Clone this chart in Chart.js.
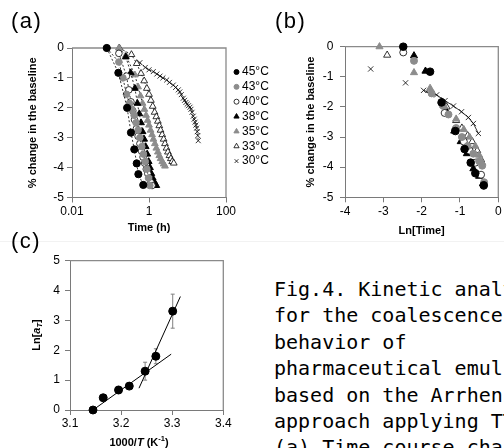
<!DOCTYPE html>
<html><head><meta charset="utf-8">
<script src="https://cdn.jsdelivr.net/npm/chart.js@4/dist/chart.umd.min.js"></script>
<style>
html,body{margin:0;padding:0;background:#fff;}
body{width:504px;height:448px;overflow:hidden;position:relative;font-family:"Liberation Sans",Arial,sans-serif;}
canvas{position:absolute;}
#ca{left:0;top:0;}
#cb{left:290px;top:0;}
#cc{left:0;top:240px;}
.lbl{position:absolute;font-size:22px;line-height:22px;letter-spacing:1.5px;color:#000;}
#cap{position:absolute;left:274px;top:276px;font-family:"DejaVu Sans Mono",monospace;font-size:20px;line-height:26.4px;white-space:pre;color:#000;}
.seam{position:absolute;left:0;top:241px;width:504px;height:1px;background:#f2f2f2;}
</style></head>
<body>
<div class="seam"></div>
<canvas id="ca" width="290" height="240"></canvas>
<canvas id="cb" width="214" height="240"></canvas>
<canvas id="cc" width="250" height="230"></canvas>
<div class="lbl" style="left:11px;top:10px;">(a)</div>
<div class="lbl" style="left:275px;top:10px;">(b)</div>
<div class="lbl" style="left:11px;top:230px;">(c)</div>
<div id="cap">Fig.4. Kinetic analysis
for the coalescence
behavior of
pharmaceutical emulsions
based on the Arrhenius
approach applying TTS.
(a) Time course changes</div>
<script>
// ---------- data ----------
const SERIES = ['45°C','43°C','40°C','38°C','35°C','33°C','30°C'];

// Panel (a): time (h) vs % change in the baseline
const A_TIME_45 = [0.08,0.16,0.27,0.34,0.415,0.48,0.53,0.71];
const A_CHG_45  = [0,-0.83,-2.0,-2.83,-3.39,-3.86,-4.22,-4.58];
const A_TIME_43 = [0.08,0.165,0.21,0.26,0.31,0.36,0.41,0.46,0.52,0.58,0.65,0.72,0.8,0.88,0.97,1.05];
const A_CHG_43  = [0,-0.47,-1.0,-1.55,-1.85,-2.05,-2.25,-2.5,-2.75,-3.0,-3.3,-3.55,-3.8,-4.05,-4.35,-4.6];
const A_TIME_40 = [0.165,0.26,0.3,0.34,0.38,0.42,0.47,0.52,0.58,0.64,0.7,0.77,0.85,0.93,1.02,1.12,1.2];
const A_CHG_40  = [-0.18,-0.94,-1.4,-1.8,-2.1,-2.4,-2.7,-2.95,-3.2,-3.45,-3.65,-3.85,-4.05,-4.2,-4.35,-4.5,-4.6];
const A_TIME_38 = [0.25,0.335,0.43,0.5,0.56,0.62,0.68,0.75,0.82,0.9,0.98,1.06,1.15,1.25,1.4,1.55];
const A_CHG_38  = [-0.3,-0.83,-1.35,-1.85,-2.2,-2.5,-2.8,-3.05,-3.3,-3.55,-3.8,-4.0,-4.2,-4.35,-4.5,-4.6];
const A_TIME_35 = [0.165,0.25,0.43,0.52,0.6,0.68,0.76,0.84,0.92,1.0,1.1,1.2,1.3,1.42,1.55,1.7,1.85,2.0,2.2,2.4,2.6];
const A_CHG_35  = [0,-0.25,-0.9,-1.3,-1.6,-1.85,-2.05,-2.25,-2.42,-2.58,-2.75,-2.9,-3.05,-3.2,-3.35,-3.48,-3.6,-3.7,-3.8,-3.88,-3.95];
const A_TIME_33 = [0.17,0.35,0.48,0.62,0.75,0.88,1.0,1.12,1.25,1.4,1.55,1.7,1.85,2.0,2.2,2.4,2.6,2.85,3.1,3.4,3.7,4.0,4.4];
const A_CHG_33  = [0,-0.22,-0.52,-0.85,-1.1,-1.35,-1.55,-1.75,-1.95,-2.15,-2.3,-2.45,-2.6,-2.75,-2.9,-3.05,-3.2,-3.35,-3.48,-3.6,-3.7,-3.8,-3.85];
const A_TIME_30 = [0.58,0.8,1.0,1.29,1.6,1.93,2.3,2.88,3.4,4.27,4.9,5.76,6.3,6.9,7.76,8.4,9.1,9.8,10.6,11.6,12.3,13.1,14.1,14.9,15.7,16.5,17.3,17.9,18.5,19.0];
const A_CHG_30  = [-0.49,-0.65,-0.73,-0.79,-0.87,-0.94,-1.0,-1.07,-1.15,-1.24,-1.32,-1.4,-1.47,-1.56,-1.68,-1.75,-1.82,-1.88,-1.93,-1.98,-2.05,-2.15,-2.28,-2.38,-2.48,-2.58,-2.68,-2.8,-2.93,-3.1];
const A_XTICKS = [0.01, 1, 100];

// Panel (b): Ln[Time] (shifted) vs % change in the baseline
const B_LNT_45 = [-2.48,-1.78,-1.48,-1.12,-0.88,-0.72,-0.6,-0.38];
const B_CHG_45 = [0,-0.83,-1.85,-2.8,-3.4,-3.85,-4.2,-4.6];
const B_LNT_43 = [-2.2,-1.74,-1.45,-1.3,-1.1,-0.95,-0.8,-0.65,-0.5,-0.42,-0.37];
const B_CHG_43 = [-0.47,-1.55,-1.95,-2.25,-2.7,-3.0,-3.3,-3.55,-3.8,-3.95,-4.5];
const B_LNT_40 = [-2.48,-1.4,-1.12,-0.9,-0.75,-0.6,-0.45,-0.38];
const B_CHG_40 = [-0.19,-2.2,-2.75,-3.15,-3.45,-3.85,-4.25,-4.62];
const B_LNT_38 = [-2.2,-1.9,-1.48,-1.33,-1.15,-0.98,-0.82,-0.65,-0.5,-0.4];
const B_CHG_38 = [-0.3,-0.81,-1.83,-2.2,-2.8,-3.15,-3.55,-4.05,-4.3,-4.55];
const B_LNT_35 = [-3.1,-2.2,-1.78,-1.4,-1.1,-0.9,-0.75,-0.6,-0.5,-0.42];
const B_CHG_35 = [0,-0.86,-1.38,-2.0,-2.4,-2.75,-3.0,-3.3,-3.6,-3.85];
const B_LNT_33 = [-2.9,-1.78,-1.35,-1.1,-0.95,-0.8,-0.68,-0.55,-0.45];
const B_CHG_33 = [-0.28,-1.45,-2.0,-2.45,-2.7,-2.95,-3.15,-3.45,-3.75];
const B_LNT_30 = [-3.33,-2.42,-1.95,-1.61,-1.39,-1.17,-0.96,-0.78,-0.65,-0.52];
const B_CHG_30 = [-0.74,-1.2,-1.45,-1.6,-1.79,-1.97,-2.16,-2.35,-2.55,-2.88];

// Panel (c): Arrhenius plot
const C_INVT  = [3.145,3.165,3.195,3.216,3.247,3.268,3.301];
const C_LNAT  = [0,0.41,0.67,0.80,1.30,1.80,3.31];
const C_ERR   = [0,0.05,0.12,0.05,0.30,0.25,0.57];
const C_FIT1_X = [3.145,3.298]; const C_FIT1_Y = [0,1.87];
const C_FIT2_X = [3.235,3.316]; const C_FIT2_Y = [0.73,3.80];
const C_XTICKS = [3.1,3.2,3.3,3.4];

// ---------- styles ----------
const GREY = '#8c8c8c';
const STYLE = [
  {ps:'circle',   bg:'#000', bc:'#000', r:3.6, bw:1},
  {ps:'circle',   bg:GREY,   bc:GREY,   r:3.3, bw:1},
  {ps:'circle',   bg:'#fff', bc:'#000', r:3.3, bw:0.8},
  {ps:'triangle', bg:'#000', bc:'#000', r:3.9, bw:1},
  {ps:'triangle', bg:GREY,   bc:GREY,   r:3.9, bw:1},
  {ps:'triangle', bg:'#fff', bc:'#000', r:3.9, bw:0.8},
  {ps:'crossRot', bg:'#000', bc:'#000', r:3.5, bw:0.8}
];
const FONT = "'Liberation Sans', Arial, sans-serif";
Chart.defaults.font.family = FONT;
Chart.defaults.font.size = 12;
Chart.defaults.color = '#000';
const TITLE_FONT = {size: 11, weight: 'bold'};

const zip = (xs, ys) => xs.map((v, i) => ({x: v, y: ys[i]}));

const framePlugin = {
  id: 'frame',
  beforeDatasetsDraw(chart) {
    const {ctx, chartArea: a} = chart;
    ctx.save();
    ctx.strokeStyle = '#8a8a8a'; ctx.lineWidth = 1.3;
    ctx.beginPath();
    ctx.moveTo(a.left, a.top); ctx.lineTo(a.right, a.top); ctx.lineTo(a.right, a.bottom);
    ctx.stroke();
    ctx.restore();
  }
};

function drawMarker(ctx, s, x, y, r) {
  ctx.save();
  ctx.fillStyle = s.bg; ctx.strokeStyle = s.bc; ctx.lineWidth = s.bw;
  ctx.beginPath();
  if (s.ps === 'circle') {
    ctx.arc(x, y, r, 0, Math.PI * 2); ctx.fill(); ctx.stroke();
  } else if (s.ps === 'triangle') {
    ctx.moveTo(x, y - r); ctx.lineTo(x + r * 0.866, y + r * 0.5); ctx.lineTo(x - r * 0.866, y + r * 0.5);
    ctx.closePath(); ctx.fill(); ctx.stroke();
  } else {
    const d = r * 0.75;
    ctx.moveTo(x - d, y - d); ctx.lineTo(x + d, y + d);
    ctx.moveTo(x + d, y - d); ctx.lineTo(x - d, y + d); ctx.stroke();
  }
  ctx.restore();
}

const legendPlugin = {
  id: 'sideLegend',
  afterDraw(chart) {
    const ctx = chart.ctx;
    ctx.save();
    ctx.font = '12px ' + FONT; ctx.fillStyle = '#000'; ctx.textBaseline = 'middle'; ctx.textAlign = 'left';
    chart.data.datasets.forEach((ds, i) => {
      const y = 72 + 14.85 * i;
      drawMarker(ctx, STYLE[i], 236.5, y, STYLE[i].ps === 'triangle' ? 3 : 2.5);
      ctx.fillText(ds.label, 242, y);
    });
    ctx.restore();
  }
};

function drawRuns(ctx, runs, cx, cy, rot) {
  ctx.save();
  ctx.translate(cx, cy); ctx.rotate(rot);
  ctx.textBaseline = 'middle'; ctx.fillStyle = '#000'; ctx.textAlign = 'left';
  let w = 0;
  runs.forEach(r => { ctx.font = r.f; w += ctx.measureText(r.t).width; });
  let x = -w / 2;
  runs.forEach(r => { ctx.font = r.f; ctx.fillText(r.t, x, r.dy || 0); x += ctx.measureText(r.t).width; });
  ctx.restore();
}

function axis(o) {
  return Object.assign({
    grid: {drawOnChartArea: false, tickLength: 5, color: '#7a7a7a', lineWidth: 1},
    border: {color: '#7a7a7a', width: 1}
  }, o);
}

// ---------- Panel (a) ----------
const A_T = [A_TIME_45, A_TIME_43, A_TIME_40, A_TIME_38, A_TIME_35, A_TIME_33, A_TIME_30];
const A_C = [A_CHG_45, A_CHG_43, A_CHG_40, A_CHG_38, A_CHG_35, A_CHG_33, A_CHG_30];
new Chart(document.getElementById('ca'), {
  type: 'scatter',
  data: {
    datasets: SERIES.map((name, i) => ({
      label: name, data: zip(A_T[i], A_C[i]), showLine: true, clip: false,
      borderColor: '#000', borderWidth: 0.8, borderDash: [2, 2],
      pointStyle: STYLE[i].ps, pointRadius: STYLE[i].r, pointBackgroundColor: STYLE[i].bg,
      pointBorderColor: STYLE[i].bc, pointBorderWidth: STYLE[i].bw, pointHoverRadius: STYLE[i].r
    }))
  },
  options: {
    responsive: false, animation: false, devicePixelRatio: 1,
    layout: {padding: {top: 48, right: 64, left: 0, bottom: 0}},
    plugins: {legend: {display: false}, tooltip: {enabled: false}},
    scales: {
      x: axis({type: 'logarithmic', min: 0.01, max: 100,
        afterBuildTicks: s => { s.ticks = A_XTICKS.map(v => ({value: v})); },
        afterFit: s => { s.height = 42.5; },
        ticks: {callback: v => String(v), padding: 2, maxRotation: 0, autoSkip: false},
        title: {display: true, text: 'Time (h)', font: TITLE_FONT, padding: {top: 0, bottom: 5.4}}}),
      y: axis({min: -5, max: 0,
        afterFit: s => { s.width = 72; },
        ticks: {stepSize: 1, callback: v => String(v), padding: 3},
        title: {display: true, text: '% change in the baseline', font: TITLE_FONT, padding: {top: 26.4, bottom: 0}}})
    }
  },
  plugins: [framePlugin, legendPlugin]
});

// ---------- Panel (b) ----------
const B_X = [B_LNT_45, B_LNT_43, B_LNT_40, B_LNT_38, B_LNT_35, B_LNT_33, B_LNT_30];
const B_Y = [B_CHG_45, B_CHG_43, B_CHG_40, B_CHG_38, B_CHG_35, B_CHG_33, B_CHG_30];
new Chart(document.getElementById('cb'), {
  type: 'scatter',
  data: {
    datasets: SERIES.map((name, i) => ({
      label: name, data: zip(B_X[i], B_Y[i]), clip: false,
      showLine: i === 6, borderColor: '#000', borderWidth: 0.8,
      segment: {borderColor: c => (c.p0DataIndex >= 2 ? '#000' : 'rgba(0,0,0,0)')},
      pointStyle: STYLE[i].ps, pointRadius: STYLE[i].r + 0.2, pointBackgroundColor: STYLE[i].bg,
      pointBorderColor: STYLE[i].bc, pointBorderWidth: STYLE[i].bw
    }))
  },
  options: {
    responsive: false, animation: false, devicePixelRatio: 1,
    layout: {padding: {top: 46.7, right: 5.7, left: 0, bottom: 0}},
    plugins: {legend: {display: false}, tooltip: {enabled: false}},
    scales: {
      x: axis({min: -4, max: 0,
        afterFit: s => { s.height = 42.7; },
        ticks: {stepSize: 1, callback: v => String(v), padding: 2, maxRotation: 0},
        title: {display: true, text: 'Ln[Time]', font: TITLE_FONT, padding: {top: 0, bottom: 2.4}}}),
      y: axis({min: -5, max: 0,
        afterFit: s => { s.width = 55; },
        ticks: {stepSize: 1, callback: v => String(v), padding: 6.5},
        title: {display: true, text: '% change in the baseline', font: TITLE_FONT, padding: {top: 14.4, bottom: 0}}})
    }
  },
  plugins: [framePlugin]
});

// ---------- Panel (c) ----------
const errPlugin = {
  id: 'errbars',
  beforeDatasetsDraw(chart) {
    const {ctx, scales: {x, y}} = chart;
    ctx.save(); ctx.strokeStyle = '#808080'; ctx.lineWidth = 1;
    C_INVT.forEach((v, i) => {
      if (!C_ERR[i]) return;
      const px = x.getPixelForValue(v);
      const t = y.getPixelForValue(C_LNAT[i] + C_ERR[i]);
      const b = y.getPixelForValue(C_LNAT[i] - C_ERR[i]);
      ctx.beginPath();
      ctx.moveTo(px, t); ctx.lineTo(px, b);
      ctx.moveTo(px - 2, t); ctx.lineTo(px + 2, t);
      ctx.moveTo(px - 2, b); ctx.lineTo(px + 2, b);
      ctx.stroke();
    });
    ctx.restore();
  }
};
const cTitles = {
  id: 'cTitles',
  afterDraw(chart) {
    const ctx = chart.ctx;
    const B = 'bold 11px ' + FONT, BI = 'italic bold 11px ' + FONT, S = 'bold 7.5px ' + FONT, SI = 'italic bold 7.5px ' + FONT;
    drawRuns(ctx, [{t: 'Ln[', f: B}, {t: 'a', f: BI}, {t: 'T', f: SI, dy: 3}, {t: ']', f: B}], 36.7, 95, -Math.PI / 2);
    drawRuns(ctx, [{t: '1000/', f: B}, {t: 'T', f: BI}, {t: ' (K', f: B}, {t: '-1', f: S, dy: -4}, {t: ')', f: B}], 139, 202.5, 0);
  }
};
new Chart(document.getElementById('cc'), {
  type: 'scatter',
  data: {
    datasets: [
      {label: 'Ln[aT]', data: zip(C_INVT, C_LNAT), clip: false, pointRadius: 4, pointBackgroundColor: '#000', pointBorderColor: '#000'},
      {label: 'fit 1', data: zip(C_FIT1_X, C_FIT1_Y), showLine: true, pointRadius: 0, borderColor: '#000', borderWidth: 1, clip: false},
      {label: 'fit 2', data: zip(C_FIT2_X, C_FIT2_Y), showLine: true, pointRadius: 0, borderColor: '#000', borderWidth: 1, clip: false}
    ]
  },
  options: {
    responsive: false, animation: false, devicePixelRatio: 1,
    layout: {padding: {top: 20.7, right: 26.7, left: 0, bottom: 0}},
    plugins: {legend: {display: false}, tooltip: {enabled: false}},
    scales: {
      x: axis({min: 3.1, max: 3.4,
        afterBuildTicks: s => { s.ticks = C_XTICKS.map(v => ({value: v})); },
        afterFit: s => { s.height = 60; },
        ticks: {callback: v => v.toFixed(1), padding: 1.8, maxRotation: 0, autoSkip: false}}),
      y: axis({min: 0, max: 5,
        afterFit: s => { s.width = 70; },
        ticks: {stepSize: 1, callback: v => String(v), padding: 5}})
    }
  },
  plugins: [framePlugin, errPlugin, cTitles]
});
</script>
</body></html>
